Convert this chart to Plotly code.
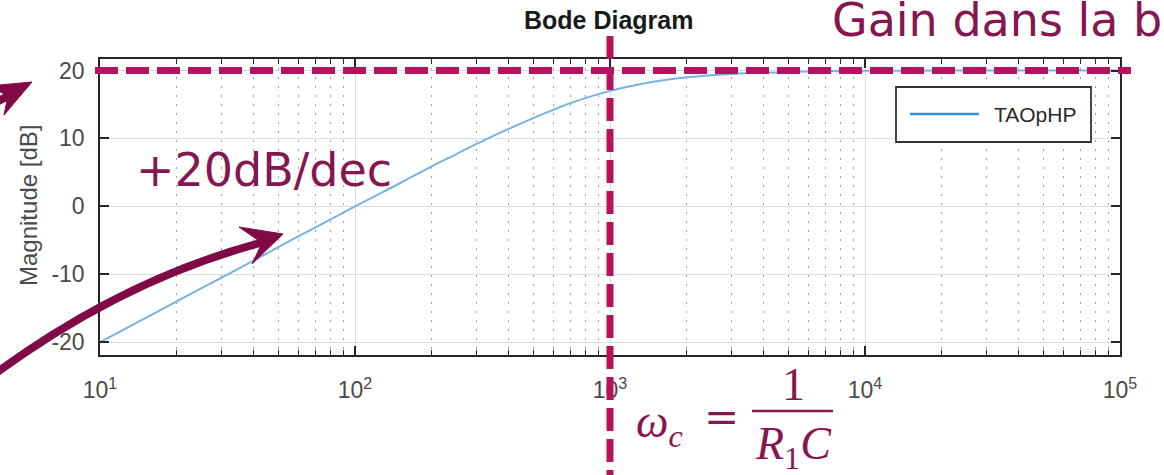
import numpy as np
import plotly.graph_objects as go

# Frequency response of the active high-pass filter (TAOpHP)
freq = [10, 15, 20, 30, 40, 50, 70, 100, 150, 200, 250, 300, 400, 500, 700,
        1000, 1200, 1500, 2000, 3000, 5000, 7000, 10000, 20000, 50000, 100000]
mag_db = [-20.0, -16.5, -14.0, -10.5, -8.0, -6.0, -3.1, 0.0, 3.4, 5.9, 7.7, 9.2,
          11.4, 13.0, 15.2, 17.0, 17.7, 18.4, 19.0, 19.5, 19.8, 19.9, 19.96,
          19.99, 20.0, 20.0]
series_name = "TAOpHP"

x_ticks = [10, 100, 1000, 10000, 100000]
x_tick_labels = ["10<sup>1</sup>", "10<sup>2</sup>", "10<sup>3</sup>",
                 "10<sup>4</sup>", "10<sup>5</sup>"]
y_ticks = [-20, -10, 0, 10, 20]
y_tick_labels = ["-20", "-10", "0", "10", "20"]

passband_gain = 20      # dB, horizontal reference line
cutoff = 1000           # rad/s, vertical reference line

W, H = 1164, 475
L, R, T, B = 100, 1120, 59, 355
X_RANGE = [1, 5]
Y_RANGE = [-21.9, 21.7]

MAGENTA = "#b5135f"
WINE = "#800a46"
TEXT_WINE = "#861650"


def px(x):
    return (x - L) / (R - L)


def py(y):
    return (B - y) / (B - T)


def xd(v):
    return (np.log10(v) - X_RANGE[0]) / (X_RANGE[1] - X_RANGE[0])


def yd(v):
    return (v - Y_RANGE[0]) / (Y_RANGE[1] - Y_RANGE[0])


def pt(x, y):
    return f"{px(x):.5f},{py(y):.5f}"


def arrowhead(tip, barb1, notch, barb2):
    return "M " + " L ".join(pt(*p) for p in (tip, barb1, notch, barb2)) + " Z"


fig = go.Figure()
fig.add_trace(go.Scatter(
    x=freq, y=mag_db, mode="lines", name=series_name,
    line=dict(color="#74b3e2", width=2, shape="spline", smoothing=0.8),
    showlegend=False,
))

axis_font = dict(family="Liberation Sans, Arial, sans-serif", size=23, color="#4a4a4a")
line_col = "#262626"

fig.update_xaxes(
    type="log", range=X_RANGE, tickvals=x_ticks, ticktext=x_tick_labels,
    showline=True, linecolor=line_col, linewidth=1.5, mirror="ticks",
    ticks="inside", ticklen=9, tickwidth=1.5, tickcolor=line_col,
    showgrid=True, gridcolor="#dcdcdc", gridwidth=1,
    minor=dict(ticks="inside", ticklen=5, tickwidth=1.2, tickcolor=line_col,
               showgrid=True, gridcolor="#a0a0a0", gridwidth=1.4,
               griddash="1.5px,7.5px", dtick="D1"),
    tickfont=axis_font, ticklabelstandoff=14, zeroline=False,
)
fig.update_yaxes(
    range=Y_RANGE, tickvals=y_ticks, ticktext=y_tick_labels,
    showline=True, linecolor=line_col, linewidth=1.5, mirror="ticks",
    ticks="inside", ticklen=9, tickwidth=1.5, tickcolor=line_col,
    showgrid=True, gridcolor="#dcdcdc", gridwidth=1, zeroline=False,
    tickfont=axis_font, ticklabelstandoff=9,
)

shapes = []
# Legend box
shapes.append(dict(type="rect", xref="paper", yref="paper",
                   x0=px(896), x1=px(1091), y0=py(142), y1=py(87),
                   fillcolor="white", line=dict(color="#333333", width=1.8)))
shapes.append(dict(type="line", xref="paper", yref="paper",
                   x0=px(910), x1=px(979), y0=py(114), y1=py(114),
                   line=dict(color="#3a8ed2", width=2.5)))
# Pass-band gain and cut-off markers
shapes.append(dict(type="line", xref="paper", yref="paper",
                   x0=px(95), x1=px(1131), y0=yd(passband_gain), y1=yd(passband_gain),
                   line=dict(color=MAGENTA, width=7, dash="23px,8px")))
shapes.append(dict(type="line", xref="paper", yref="paper",
                   x0=xd(cutoff), x1=xd(cutoff), y0=py(36), y1=py(482),
                   line=dict(color=MAGENTA, width=7, dash="23px,8px")))
# Curved arrow pointing at the +20 dB/dec slope
shapes.append(dict(type="path", xref="paper", yref="paper",
                   path=f"M {pt(-16, 382)} Q {pt(119, 280)} {pt(264, 242)}",
                   line=dict(color=WINE, width=8)))
shapes.append(dict(type="path", xref="paper", yref="paper",
                   path=arrowhead((283, 234), (239, 227), (262, 243), (252, 264)),
                   fillcolor=WINE, line=dict(color=WINE, width=1)))
# Arrow entering from the left towards the 20 dB level
shapes.append(dict(type="path", xref="paper", yref="paper",
                   path=f"M {pt(-22, 112)} L {pt(10, 95)}",
                   line=dict(color=WINE, width=8)))
shapes.append(dict(type="path", xref="paper", yref="paper",
                   path=arrowhead((32, 82), (-11, 86), (8, 96), (4, 115)),
                   fillcolor=WINE, line=dict(color=WINE, width=1)))
# Fraction bar of the cut-off formula
shapes.append(dict(type="line", xref="paper", yref="paper",
                   x0=px(752), x1=px(833), y0=py(411), y1=py(411),
                   line=dict(color=TEXT_WINE, width=2.5)))

big_font = dict(family="DejaVu Sans, sans-serif", size=46, color=TEXT_WINE)
math_font = dict(family="Liberation Serif, DejaVu Serif, serif", size=46, color=TEXT_WINE)
eq_font = dict(family="DejaVu Serif, serif", size=42, color=TEXT_WINE)

annotations = [
    dict(text="<b>Bode Diagram</b>", x=px(608), y=py(20), xref="paper", yref="paper",
         showarrow=False, xanchor="center", yanchor="middle",
         font=dict(family="Liberation Sans, Arial, sans-serif", size=25, color="#1a1a1a")),
    dict(text="Magnitude [dB]", x=px(28), y=py(206), xref="paper", yref="paper",
         showarrow=False, xanchor="center", yanchor="middle", textangle=-90,
         font=dict(family="Liberation Sans, Arial, sans-serif", size=24, color="#4a4a4a")),
    dict(text=series_name, x=px(992), y=py(114), xref="paper", yref="paper",
         showarrow=False, xanchor="left", yanchor="middle",
         font=dict(family="Liberation Sans, Arial, sans-serif", size=21, color="#2a2a2a")),
    dict(text="+20dB/dec", x=px(134), y=py(170), xref="paper", yref="paper",
         showarrow=False, xanchor="left", yanchor="middle", font=big_font),
    dict(text="Gain dans la bande passante", x=px(830), y=py(20), xref="paper", yref="paper",
         showarrow=False, xanchor="left", yanchor="middle", font=big_font),
    dict(text="<i>ω</i><sub><i>c</i></sub>", x=px(634), y=py(425), xref="paper", yref="paper",
         showarrow=False, xanchor="left", yanchor="middle", font=math_font),
    dict(text="=", x=px(721), y=py(418), xref="paper", yref="paper",
         showarrow=False, xanchor="center", yanchor="middle", font=eq_font),
    dict(text="1", x=px(793), y=py(384), xref="paper", yref="paper",
         showarrow=False, xanchor="center", yanchor="middle", font=math_font),
    dict(text="<i>R</i><sub>1</sub><i>C</i>", x=px(793), y=py(447), xref="paper", yref="paper",
         showarrow=False, xanchor="center", yanchor="middle", font=math_font),
]

fig.update_layout(
    width=W, height=H, autosize=False,
    margin=dict(l=L, r=W - R, t=T, b=H - B, pad=0),
    paper_bgcolor="white", plot_bgcolor="white",
    shapes=shapes, annotations=annotations, showlegend=False,
)

fig.write_html("out.html")
